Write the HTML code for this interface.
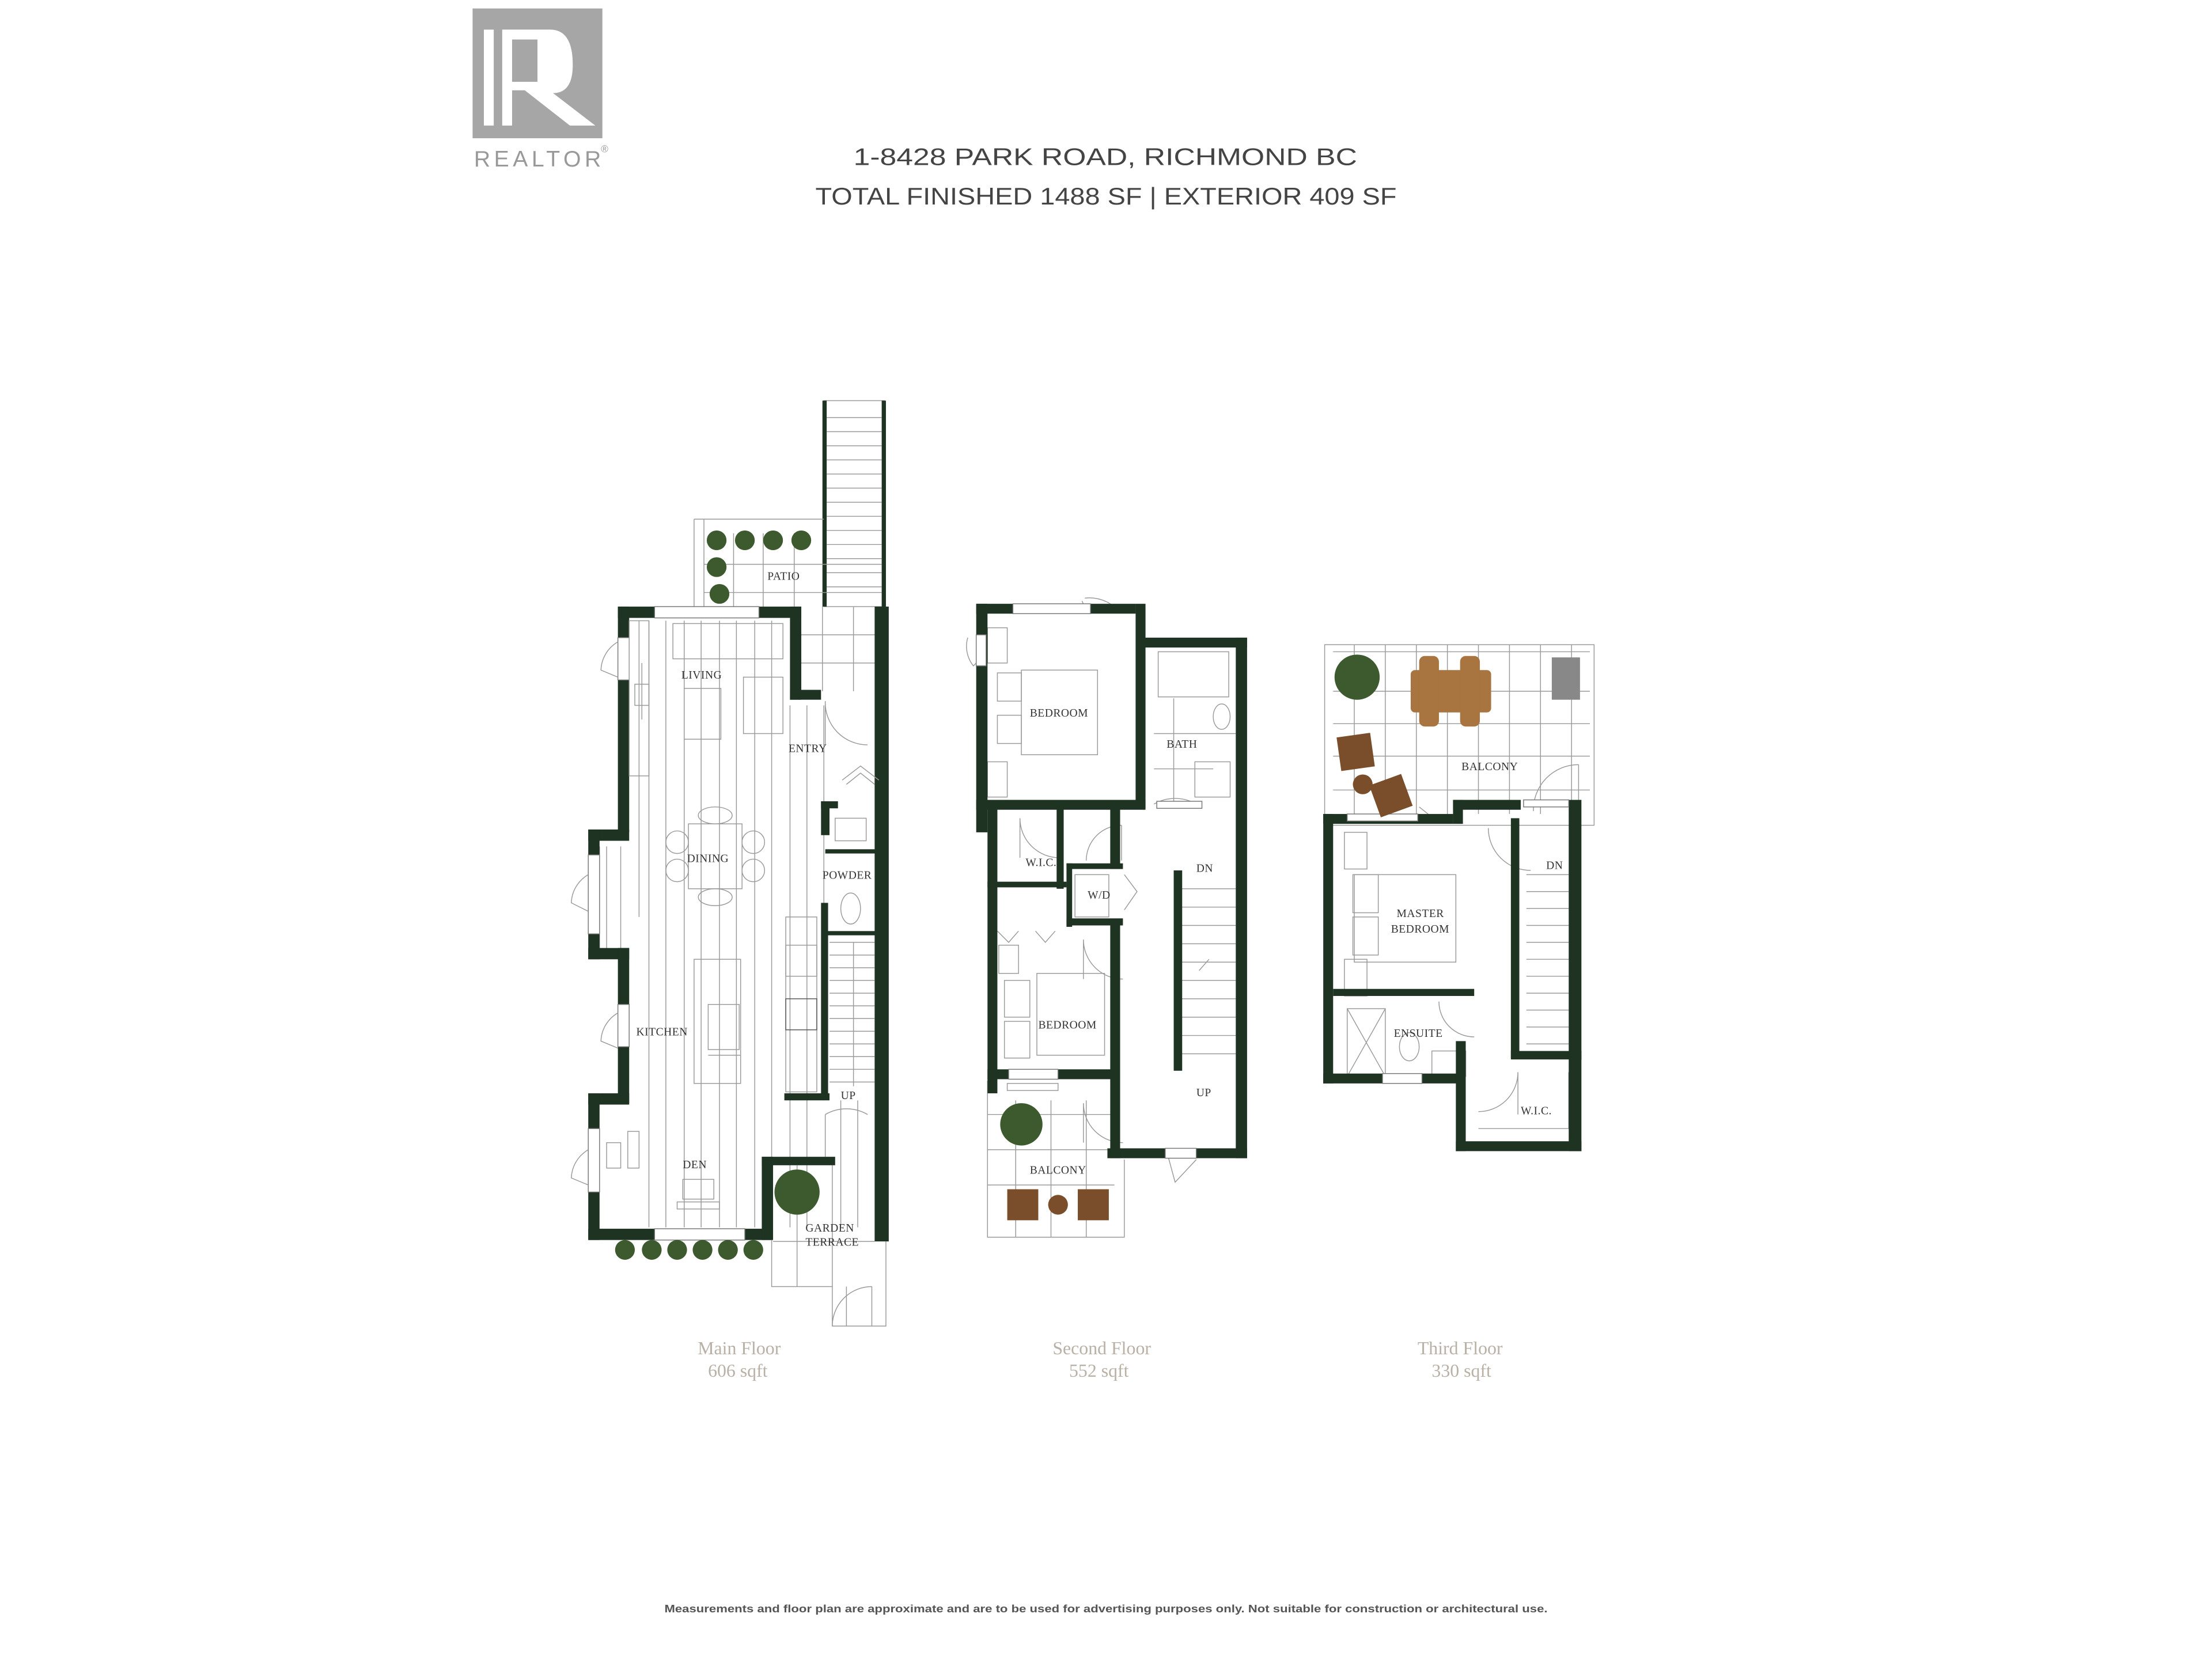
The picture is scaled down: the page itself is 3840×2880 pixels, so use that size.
<!DOCTYPE html>
<html><head><meta charset="utf-8">
<style>
html,body{margin:0;padding:0;background:#fff;}
svg{display:block;}
.w{fill:#1f3323;}
.l{stroke:#9a9a9a;stroke-width:0.6;fill:none;}
.t{font-family:"Liberation Serif",serif;font-size:8px;fill:#333;letter-spacing:0.2px;}
.cap{font-family:"Liberation Serif",serif;font-size:13px;fill:#b9b0a6;text-anchor:middle;}
.plant{fill:#3c5a2e;}
.wood{fill:#7a4e2a;}
</style></head>
<body>
<svg width="3840" height="2880" viewBox="0 0 1568 1176" xmlns="http://www.w3.org/2000/svg">
<rect width="1568" height="1176" fill="#fff"/>
<!-- logo -->
<rect x="335" y="6" width="92" height="92" fill="#a6a6a6"/>
<rect x="343" y="21" width="7" height="68" fill="#fff"/>
<path d="M356 21 H390 Q406 21 406 46 Q406 66 392 66 L422 89 H404 L372 64 H363 V89 H356 Z" fill="#fff"/>
<rect x="363" y="28" width="18" height="30" fill="#a6a6a6"/>
<text x="336" y="118" font-family="Liberation Sans,sans-serif" font-size="16" fill="#999" textLength="90">REALTOR</text>
<text x="426" y="108" font-family="Liberation Sans,sans-serif" font-size="7" fill="#999">®</text>
<!-- title -->
<text x="605" y="117" font-family="Liberation Sans,sans-serif" font-size="17" fill="#444" textLength="357" lengthAdjust="spacingAndGlyphs">1-8428 PARK ROAD, RICHMOND BC</text>
<text x="578" y="145" font-family="Liberation Sans,sans-serif" font-size="17" fill="#444" textLength="412" lengthAdjust="spacingAndGlyphs">TOTAL FINISHED 1488 SF | EXTERIOR 409 SF</text>

<!-- ================= MAIN FLOOR ================= -->
<rect x="584" y="284" width="43" height="146" class="l"/>
<rect x="583" y="284" width="3" height="146" class="w"/><rect x="625" y="284" width="3" height="146" class="w"/>
<g class="l">
<path d="M586 296H625M586 306H625M586 316H625M586 326H625M586 336H625M586 346H625M586 356H625M586 366H625M586 376H625M586 386H625M586 396H625M586 406H625M586 416H625"/>
<path d="M492 368H584M492 368V432M499 368V432"/>
<path d="M520 378V432M541 378V432M563 378V490M583 430V490M605 430V490M499 400H625M499 420H625M563 450H625M563 470H625"/>
</g>
<g class="l" stroke="#c8c8c8">
<path d="M460 440V870M472 440V870M485 440V870M497 440V870M510 440V870M522 440V870M535 440V870M547 440V870M560 500V870M572 500V870M584 500V780M596 780V870M608 780V870"/>
<path d="M453 440V650M425 600V680M430 600V680M440 600V680"/>
</g>
<g class="w">
<rect x="438" y="430" width="130" height="8"/>
<rect x="560" y="430" width="8" height="66"/>
<rect x="560" y="489" width="22" height="7"/>
<rect x="620" y="430" width="10" height="450"/>
<rect x="438" y="430" width="8" height="160"/>
<rect x="417" y="588" width="29" height="8"/>
<rect x="417" y="588" width="8" height="92"/>
<rect x="417" y="672" width="29" height="8"/>
<rect x="438" y="672" width="8" height="110"/>
<rect x="417" y="775" width="29" height="8"/>
<rect x="417" y="775" width="8" height="104"/>
<rect x="417" y="871" width="130" height="8"/>
<rect x="540" y="820" width="8" height="59"/>
<rect x="540" y="820" width="52" height="6"/>
<rect x="582" y="568" width="6" height="24"/>
<rect x="582" y="568" width="12" height="5"/>
<rect x="582" y="640" width="5" height="136"/>
<rect x="556" y="775" width="32" height="5"/>
<rect x="585" y="602" width="38" height="3"/>
<rect x="585" y="660" width="38" height="3"/>
</g>
<g fill="#fff" stroke="#777" stroke-width="0.6">
<rect x="464" y="430" width="74" height="8"/>
<rect x="438" y="452" width="8" height="30"/>
<rect x="417" y="606" width="8" height="56"/>
<rect x="438" y="712" width="8" height="30"/>
<rect x="417" y="800" width="8" height="45"/>
<rect x="464" y="871" width="64" height="8"/>
</g>
<g class="l">
<path d="M438 455 A24 24 0 0 0 426 475 L438 480"/>
<path d="M417 620 A24 24 0 0 0 405 640 L417 646"/>
<path d="M438 718 A24 24 0 0 0 426 738 L438 743"/>
<path d="M417 815 A24 24 0 0 0 405 835 L417 840"/>
<path d="M585 497 A30 30 0 0 0 615 528 M585 497V528"/>
<path d="M585 790 A30 30 0 0 1 615 790 M585 790V820"/>
<path d="M590 940 A28 28 0 0 1 618 912 M618 912V940"/>
<path d="M597 553 L610 543 L623 553 M600 556 L610 548 L620 556"/>
<path d="M547 879V912H590V940H628V880"/>
<rect x="477" y="442" width="78" height="25"/>
<rect x="485" y="488" width="26" height="36"/>
<rect x="527" y="480" width="28" height="40"/>
<rect x="446" y="440" width="14" height="110"/>
<path d="M455 470V510M450 485H460V500H450Z"/>
<rect x="488" y="584" width="38" height="46"/>
<circle cx="480" cy="597" r="8"/><circle cx="480" cy="617" r="8"/>
<circle cx="534" cy="597" r="8"/><circle cx="534" cy="617" r="8"/>
<ellipse cx="507" cy="578" rx="12" ry="6"/><ellipse cx="507" cy="636" rx="12" ry="6"/>
<rect x="492" y="680" width="33" height="88"/>
<rect x="502" y="712" width="22" height="32"/>
<path d="M502 748H525"/>
<rect x="557" y="650" width="22" height="124"/>
<rect x="557" y="670" width="22" height="22"/>
<rect x="557" y="708" width="22" height="22" stroke="#555"/>
<rect x="592" y="580" width="22" height="16"/>
<ellipse cx="603" cy="644" rx="7" ry="11"/>
<path d="M588 668H620M588 677H620M588 686H620M588 695H620M588 704H620M588 713H620M588 722H620M588 731H620M588 740H620M588 749H620M588 758H620M588 767H620M605 668V770"/>
<rect x="484" y="836" width="22" height="14"/><rect x="480" y="852" width="30" height="5"/>
<rect x="430" y="810" width="10" height="18"/><rect x="445" y="802" width="8" height="26"/>
<path d="M565 826V912M590 826V912M548 880H620M600 912V940"/>
</g>
<g class="plant">
<circle cx="508" cy="383" r="7"/><circle cx="528" cy="383" r="7"/><circle cx="548" cy="383" r="7"/><circle cx="568" cy="383" r="7"/>
<circle cx="508" cy="402" r="7"/><circle cx="510" cy="421" r="7"/>
<circle cx="443" cy="886" r="7"/><circle cx="462" cy="886" r="7"/><circle cx="480" cy="886" r="7"/><circle cx="498" cy="886" r="7"/><circle cx="516" cy="886" r="7"/><circle cx="534" cy="886" r="7"/>
<circle cx="565" cy="845" r="16"/>
</g>
<text class="t" x="483" y="481">LIVING</text>
<text class="t" x="559" y="533">ENTRY</text>
<text class="t" x="544" y="411">PATIO</text>
<text class="t" x="487" y="611">DINING</text>
<text class="t" x="583" y="623">POWDER</text>
<text class="t" x="451" y="734">KITCHEN</text>
<text class="t" x="596" y="779">UP</text>
<text class="t" x="484" y="828">DEN</text>
<text class="t" x="571" y="873">GARDEN</text>
<text class="t" x="571" y="883">TERRACE</text>
<text class="cap" x="524" y="960">Main Floor</text>
<text class="cap" x="523" y="976">606 sqft</text>

<!-- ================= SECOND FLOOR ================= -->
<g class="l">
<path d="M700 766V877H797V822"/>
<path d="M700 790H790M700 815H790M700 840H790M720 780V877M745 780V877M770 780V877"/>
<rect x="724" y="475" width="54" height="60"/>
<rect x="707" y="477" width="17" height="20"/><rect x="707" y="507" width="17" height="20"/>
<rect x="700" y="445" width="14" height="25"/><rect x="700" y="540" width="14" height="25"/>
<rect x="821" y="462" width="50" height="32"/>
<ellipse cx="866" cy="508" rx="6" ry="9"/>
<rect x="847" y="540" width="25" height="25"/>
<path d="M818 545H860M818 520H876M832 495V570M818 570A30 30 0 0 1 848 570"/>
<path d="M723 580A28 28 0 0 0 751 608M723 580V608"/>
<path d="M770 610A25 25 0 0 1 795 585M795 585V610"/>
<rect x="762" y="620" width="24" height="30"/>
<path d="M797 620L806 632L797 645"/>
<rect x="735" y="690" width="48" height="58"/>
<rect x="712" y="695" width="18" height="26"/><rect x="712" y="724" width="18" height="26"/>
<rect x="708" y="670" width="14" height="20"/>
<path d="M707 660L715 668L722 660M734 660L741 668L748 660"/>
<path d="M768 666A28 28 0 0 0 796 694M768 666V694"/>
<path d="M768 782A28 28 0 0 0 796 810M768 782V810"/>
<rect x="714" y="768" width="36" height="5"/>
<path d="M836 630H876M836 643H876M836 656H876M836 669H876M836 682H876M836 695H876M836 708H876M836 721H876M836 734H876M836 747H876"/>
<path d="M850 688L857 680"/>
<path d="M827 816L833 838L848 822"/>
<path d="M767 426L770 433M769 424A28 28 0 0 1 792 432"/>
<path d="M686 452A22 22 0 0 0 690 472L692 470"/>
</g>
<g class="w">
<rect x="692" y="428" width="8" height="162"/>
<rect x="692" y="428" width="113" height="7"/>
<rect x="805" y="428" width="7" height="145"/>
<rect x="808" y="452" width="76" height="7"/>
<rect x="876" y="452" width="8" height="369"/>
<rect x="785" y="814" width="99" height="7"/>
<rect x="692" y="567" width="120" height="7"/>
<rect x="700" y="570" width="7" height="205"/>
<rect x="787" y="570" width="7" height="46"/>
<rect x="787" y="655" width="7" height="166"/>
<rect x="700" y="625" width="56" height="4"/>
<rect x="749" y="570" width="5" height="60"/>
<rect x="756" y="612" width="40" height="4"/>
<rect x="756" y="612" width="4" height="45"/>
<rect x="756" y="651" width="40" height="5"/>
<rect x="700" y="758" width="94" height="7"/>
<rect x="832" y="617" width="6" height="142"/>
</g>
<g fill="#fff" stroke="#777" stroke-width="0.6">
<rect x="718" y="428" width="55" height="7"/>
<rect x="692" y="450" width="7" height="22"/>
<rect x="715" y="758" width="35" height="7"/>
<rect x="826" y="814" width="22" height="7"/>
<rect x="820" y="568" width="32" height="5"/>
</g>
<g class="plant"><circle cx="724" cy="797" r="15"/></g>
<g class="wood"><rect x="714" y="843" width="22" height="22"/><rect x="764" y="843" width="22" height="22"/><circle cx="750" cy="854" r="7"/></g>
<text class="t" x="730" y="508">BEDROOM</text>
<text class="t" x="827" y="530">BATH</text>
<text class="t" x="727" y="614">W.I.C.</text>
<text class="t" x="771" y="637" font-size="4">W/D</text>
<text class="t" x="848" y="618">DN</text>
<text class="t" x="736" y="729">BEDROOM</text>
<text class="t" x="848" y="777">UP</text>
<text class="t" x="730" y="832">BALCONY</text>
<text class="cap" x="781" y="960">Second Floor</text>
<text class="cap" x="779" y="976">552 sqft</text>

<!-- ================= THIRD FLOOR ================= -->
<g class="l">
<rect x="939" y="457" width="191" height="128"/>
<path d="M945 462H1127M945 490H1127M945 513H1127M945 536H1127M945 560H1127"/>
<path d="M960 457V577M982 457V577M1004 457V577M1026 457V577M1048 457V577M1070 457V577M1092 457V577M1114 457V577"/>
<path d="M1087 575A32 32 0 0 1 1119 542M1119 542V575"/>
<path d="M1006 572L1016 580L1026 580"/>
<path d="M1055 587A30 30 0 0 0 1085 617"/>
<rect x="960" y="620" width="72" height="62"/>
<rect x="959" y="620" width="18" height="27"/><rect x="959" y="650" width="18" height="27"/>
<rect x="953" y="590" width="16" height="26"/><rect x="953" y="680" width="16" height="26"/>
<rect x="955" y="715" width="27" height="48"/>
<path d="M955 715L982 763M982 715L955 763"/>
<ellipse cx="999" cy="742" rx="7" ry="10"/>
<rect x="1015" y="745" width="24" height="18"/>
<path d="M1020 710A25 25 0 0 0 1045 735"/>
<path d="M1048 788A28 28 0 0 0 1076 760M1076 760V790"/>
<path d="M1048 800H1118M1112 760V800"/>
<path d="M1082 620H1112M1082 632H1112M1082 644H1112M1082 656H1112M1082 668H1112M1082 680H1112M1082 692H1112M1082 704H1112M1082 716H1112M1082 728H1112M1082 740H1112"/>
</g>
<g class="w">
<rect x="938" y="577" width="92" height="7"/>
<rect x="938" y="577" width="7" height="191"/>
<rect x="1030" y="567" width="7" height="17"/>
<rect x="1030" y="567" width="48" height="7"/>
<rect x="1112" y="567" width="9" height="249"/>
<rect x="1071" y="580" width="6" height="170"/>
<rect x="1071" y="745" width="50" height="6"/>
<rect x="938" y="761" width="101" height="7"/>
<rect x="1032" y="738" width="7" height="78"/>
<rect x="1032" y="809" width="89" height="7"/>
<rect x="945" y="701" width="100" height="5"/>
</g>
<g fill="#fff" stroke="#777" stroke-width="0.6">
<rect x="955" y="577" width="50" height="5"/>
<rect x="980" y="761" width="28" height="7"/>
<rect x="1080" y="567" width="32" height="5"/>
</g>
<g class="plant"><circle cx="962" cy="480" r="16"/></g>
<g fill="#a8743f"><rect x="1000" y="475" width="57" height="30" rx="3"/><rect x="1006" y="465" width="14" height="50" rx="4"/><rect x="1035" y="465" width="14" height="50" rx="4"/></g>
<rect x="1100" y="466" width="20" height="30" fill="#888"/>
<g class="wood"><rect x="949" y="521" width="24" height="24" transform="rotate(-8 961 533)"/><circle cx="966" cy="556" r="7"/><rect x="974" y="552" width="24" height="24" transform="rotate(-20 986 564)"/></g>
<text class="t" x="1036" y="546">BALCONY</text>
<text class="t" x="1096" y="616">DN</text>
<text class="t" x="990" y="650">MASTER</text>
<text class="t" x="986" y="661">BEDROOM</text>
<text class="t" x="988" y="735">ENSUITE</text>
<text class="t" x="1078" y="790">W.I.C.</text>
<text class="cap" x="1035" y="960">Third Floor</text>
<text class="cap" x="1036" y="976">330 sqft</text>

<text x="471" y="1143" font-family="Liberation Sans,sans-serif" font-size="7.5" font-weight="bold" fill="#555" textLength="626" lengthAdjust="spacingAndGlyphs">Measurements and floor plan are approximate and are to be used for advertising purposes only.  Not suitable for construction or architectural use.</text>
</svg>
</body></html>
